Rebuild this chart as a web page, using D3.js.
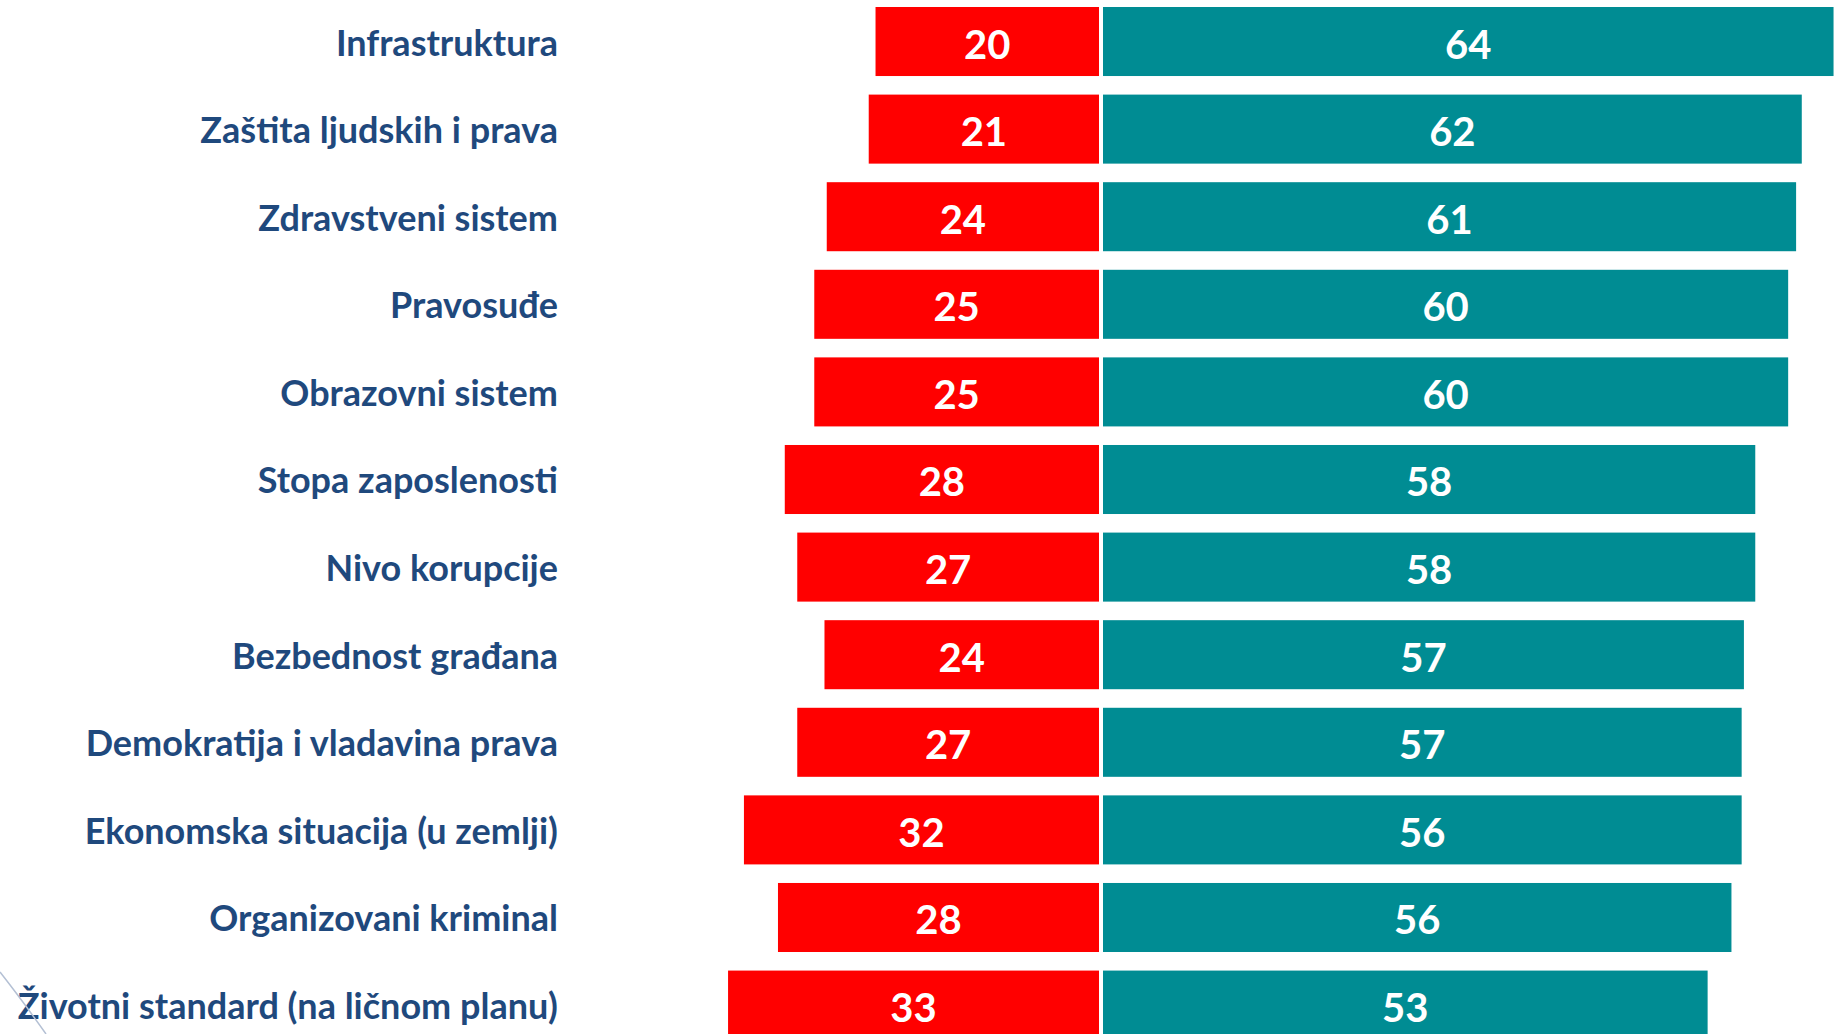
<!DOCTYPE html>
<html>
<head>
<meta charset="utf-8">
<script src="https://cdn.jsdelivr.net/npm/d3@7"></script>
<style>
  html, body { margin: 0; padding: 0; background: #fff; overflow: hidden; }
  svg { display: block; }
</style>
</head>
<body>
<svg width="1836" height="1034"></svg>
<script>
// categories, top to bottom
var categories = ['Infrastruktura', 'Zaštita ljudskih i prava', 'Zdravstveni sistem', 'Pravosuđe',
  'Obrazovni sistem', 'Stopa zaposlenosti', 'Nivo korupcije', 'Bezbednost građana',
  'Demokratija i vladavina prava', 'Ekonomska situacija (u zemlji)', 'Organizovani kriminal',
  'Životni standard (na ličnom planu)']

// red series (left of the centre line), bar lengths
var negative = [19.7, 20.3, 24.0, 25.1, 25.1, 27.7, 26.6, 24.2, 26.6, 31.3, 28.3, 32.7]
// teal series (right of the centre line)
var positive = [64.4, 61.6, 61.1, 60.4, 60.4, 57.5, 57.5, 56.5, 56.3, 56.3, 55.4, 53.3]

// printed data labels
var negativeLabels = ['20', '21', '24', '25', '25', '28', '27', '24', '27', '32', '28', '33']
var positiveLabels = ['64', '62', '61', '60', '60', '58', '58', '57', '57', '56', '56', '53']

var centerL = 1099, centerR = 1103

var svg = d3.select('svg')

var y = d3.scaleBand()
  .domain(categories)
  .range([7, 7 + 11 * 87.6 + 69])
  .paddingInner(0.212)
  .paddingOuter(0)

// one length scale for both sides
var len = d3.scaleLinear()
  .domain([0, 64])
  .range([0, 726])

var rows = categories.map(function(c, i) {
  return {name: c, neg: negative[i], pos: positive[i], negLab: negativeLabels[i], posLab: positiveLabels[i]}
})

var g = svg.selectAll('g.row')
  .data(rows)
  .enter()
  .append('g')
  .attr('class', 'row')
  .attr('transform', function(d) { return 'translate(0,' + y(d.name) + ')' })

g.append('rect')
  .attr('x', function(d) { return centerL - len(d.neg) })
  .attr('width', function(d) { return len(d.neg) })
  .attr('height', y.bandwidth())
  .attr('fill', '#ff0000')

g.append('rect')
  .attr('x', centerR)
  .attr('width', function(d) { return len(d.pos) })
  .attr('height', y.bandwidth())
  .attr('fill', '#008c93')

g.append('text')
  .attr('x', function(d) { return centerL - len(d.neg) / 2 })
  .attr('y', y.bandwidth() / 2 + 17)
  .attr('text-anchor', 'middle')
  .style('font-family', 'Lato, sans-serif')
  .style('font-weight', 'bold')
  .style('font-size', '40px')
  .style('fill', 'white')
  .text(function(d) { return d.negLab })

g.append('text')
  .attr('x', function(d) { return centerR + len(d.pos) / 2 })
  .attr('y', y.bandwidth() / 2 + 17)
  .attr('text-anchor', 'middle')
  .style('font-family', 'Lato, sans-serif')
  .style('font-weight', 'bold')
  .style('font-size', '40px')
  .style('fill', 'white')
  .text(function(d) { return d.posLab })

g.append('text')
  .attr('x', 558)
  .attr('y', y.bandwidth() / 2 + 14)
  .attr('text-anchor', 'end')
  .style('font-family', 'Lato, sans-serif')
  .style('font-weight', 'bold')
  .style('font-size', '36px')
  .style('fill', '#1f497d')
  .text(function(d) { return d.name })

// decorative slide line in the lower left corner
svg.append('path')
  .attr('d', 'M0,972 Q22,1000 46,1034')
  .attr('fill', 'none')
  .attr('stroke', '#b4c0d4')
  .attr('stroke-width', 1.5)
</script>
</body>
</html>
